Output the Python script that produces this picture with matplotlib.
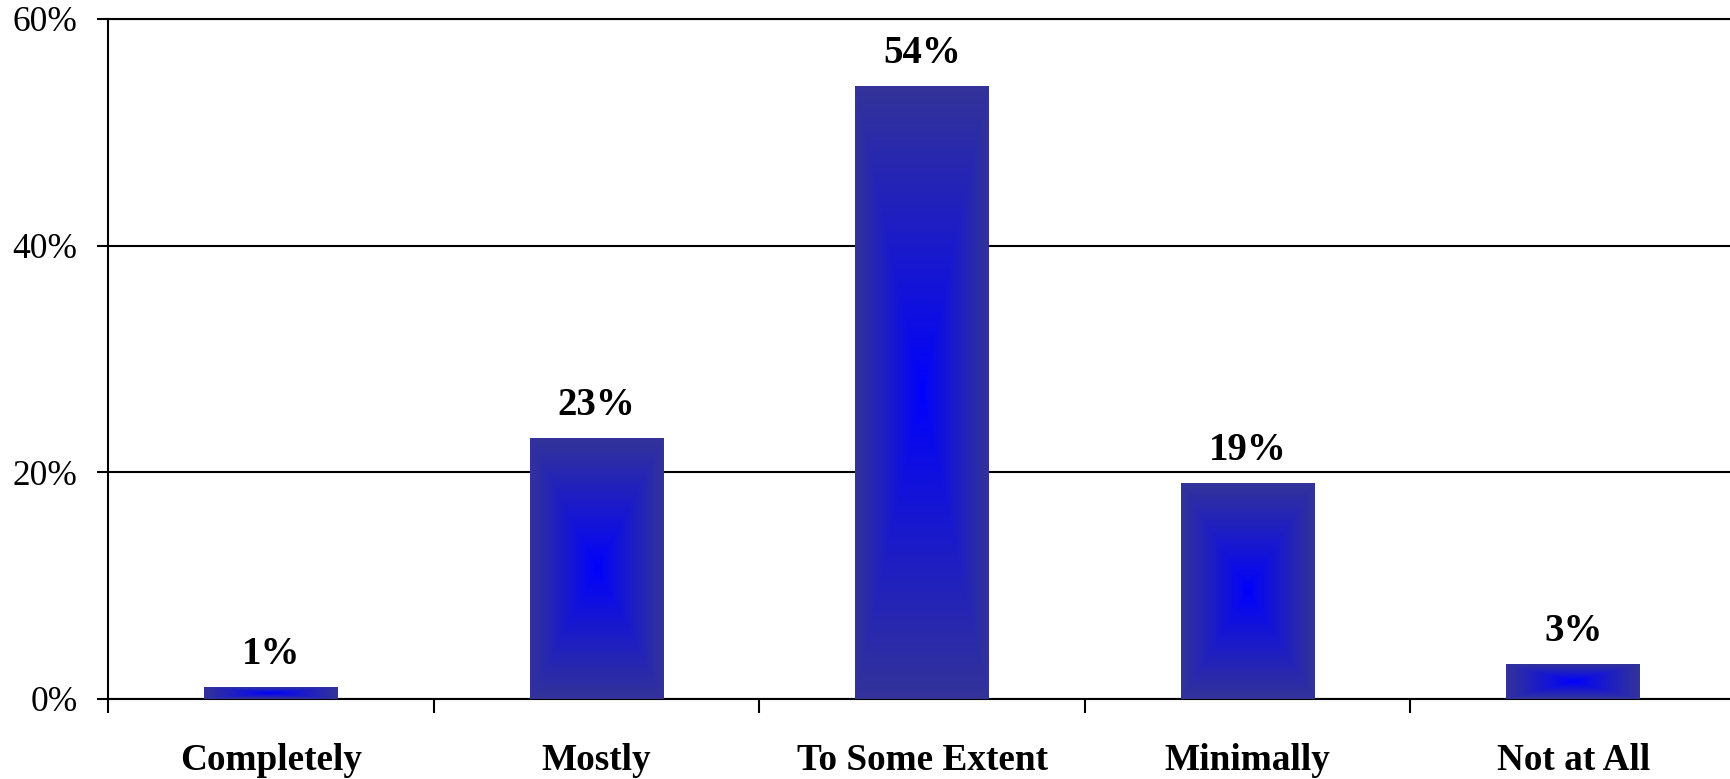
import numpy as np
import matplotlib.pyplot as plt
from matplotlib.ticker import FixedLocator, PercentFormatter

# Data
categories = ["Completely", "Mostly", "To Some Extent", "Minimally", "Not at All"]
values = [0.01, 0.23, 0.54, 0.19, 0.03]
labels = ["1%", "23%", "54%", "19%", "3%"]

plt.rcParams['font.family'] = ['Liberation Serif', 'DejaVu Serif']

fig = plt.figure(figsize=(17.31, 7.79), dpi=100)
ax = fig.add_axes([0.0624, 0.1027, 0.9405, 0.873])

x = np.arange(len(categories))
bar_w = 0.41
bars = ax.bar(x, values, width=bar_w, color='none', edgecolor='none', zorder=3)

# box gradient: bright blue in the middle, navy at the edges
edge = np.array([51, 51, 153]) / 255
centre = np.array([0, 0, 255]) / 255
u = np.linspace(-1, 1, 201)
uu, vv = np.meshgrid(u, u)
t = np.maximum(np.abs(uu), np.abs(vv)) ** 0.9
grad = centre[None, None, :] * (1 - t[..., None]) + edge[None, None, :] * t[..., None]

for b, lab in zip(bars, labels):
    x0, y0 = b.get_x(), b.get_y()
    w, h = b.get_width(), b.get_height()
    ax.imshow(grad, extent=(x0, x0 + w, y0, y0 + h), aspect='auto',
              interpolation='bilinear', zorder=3)
    ax.annotate(lab, (x0 + w / 2, y0 + h),
                xytext=(0, 17), textcoords='offset points',
                ha='center', va='baseline', fontsize=28, fontweight='bold')

ax.set_xlim(-0.5, len(categories) - 0.5)
ax.set_ylim(0, 0.6)

ax.yaxis.set_major_locator(FixedLocator([0, 0.2, 0.4, 0.6]))
ax.yaxis.set_major_formatter(PercentFormatter(1.0, decimals=0))
ax.yaxis.grid(True, color='black', linewidth=1.5, zorder=1)

ax.xaxis.set_major_locator(FixedLocator(np.arange(len(categories) + 1) - 0.5))
ax.xaxis.set_major_formatter(plt.NullFormatter())
ax.xaxis.set_minor_locator(FixedLocator(x))
ax.set_xticklabels(categories, minor=True, fontsize=26.8, fontweight='bold')

ax.tick_params(axis='x', which='major', direction='out', length=10, width=1.5)
ax.tick_params(axis='x', which='minor', length=0, pad=32)
ax.tick_params(axis='y', direction='out', length=8, width=1.5, labelsize=25.5, pad=14)

for side in ['left', 'bottom', 'top']:
    ax.spines[side].set_linewidth(1.5)
ax.spines['right'].set_visible(False)

fig.savefig("out.png", dpi=100)
